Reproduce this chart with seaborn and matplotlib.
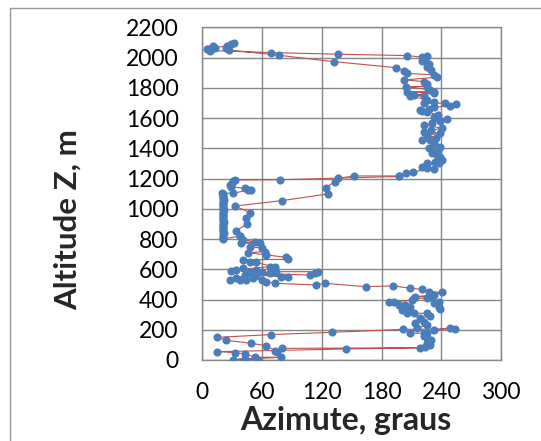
import matplotlib
matplotlib.use("Agg")
import matplotlib.pyplot as plt
import seaborn as sns
import pandas as pd
from matplotlib.lines import Line2D

# ---------------- data ----------------
# main trace: bottom section 0-510 m
az_bottom = [56, 43, 31, 79, 53, 43, 33, 15, 144, 219,
             80, 73, 75, 64, 49, 24, 15, 69, 130, 202,
             254, 249, 233, 226, 223, 226, 228, 229, 224, 226,
             230, 223, 209, 216, 226, 223, 214, 219, 229, 226,
             213, 206, 201, 209, 204, 198, 188, 193, 211, 213,
             226, 233, 238, 239, 238, 229, 214, 233, 241, 228,
             221, 209, 192, 164, 123]
alt_bottom = [0, 9, 2, 18, 18, 40, 49, 55, 73, 81,
              77, 62, 55, 94, 111, 130, 150, 168, 183, 203,
              205, 214, 197, 176, 160, 143, 121, 99, 88, 110,
              130, 176, 178, 210, 232, 254, 243, 276, 291, 309,
              309, 313, 331, 350, 362, 364, 386, 384, 397, 408,
              408, 379, 353, 335, 386, 419, 419, 430, 447, 452,
              467, 474, 490, 485, 507]

# left cluster 500-820 m
az_left = [114, 73, 64, 60, 51, 44, 38, 28, 34, 43,
           54, 79, 86, 49, 108, 113, 116, 74, 68, 60,
           54, 46, 41, 34, 29, 68, 73, 54, 48, 41,
           86, 84, 64, 46, 63, 60, 48, 58, 39, 53,
           41, 38]
alt_left = [496, 507, 518, 529, 540, 529, 529, 529, 540, 562,
            562, 551, 551, 573, 562, 578, 584, 584, 573, 584,
            595, 584, 606, 595, 591, 618, 614, 645, 651, 662,
            666, 679, 695, 710, 717, 739, 750, 772, 772, 783,
            794, 820]

# near-constant azimuth column 800-1100 m
az_column = [21, 21, 21, 21, 22, 21, 21, 21, 21, 21,
             21, 22, 21, 21, 21, 21, 21, 21, 21, 22,
             21, 21, 21, 21, 21, 21, 22, 21, 21, 21, 21]
alt_column = [800, 810, 820, 830, 840, 850, 860, 870, 880, 890,
              900, 910, 920, 930, 940, 950, 960, 970, 980, 990,
              1000, 1010, 1020, 1030, 1040, 1050, 1060, 1070, 1080, 1090, 1100]

# 1100-1215 m
az_upleft = [20, 31, 46, 49, 43, 29, 28, 30, 31, 33, 78, 198]
alt_upleft = [1104, 1102, 1124, 1124, 1135, 1146, 1160, 1172, 1182, 1190, 1192, 1214]

# right cluster 1230-1935 m
az_right = [205, 212, 226, 233, 221, 238, 226, 234, 241, 239,
            236, 231, 237, 228, 239, 233, 221, 229, 235, 226,
            239, 223, 230, 241, 223, 231, 239, 246, 233, 237,
            219, 226, 221, 228, 233, 249, 255, 244, 223, 233,
            226, 209, 223, 213, 233, 206, 233, 229, 205, 226,
            226, 223, 203, 236, 233, 206, 203, 195]
alt_right = [1235, 1241, 1268, 1261, 1278, 1301, 1301, 1312, 1325, 1345,
             1356, 1367, 1385, 1400, 1411, 1433, 1455, 1455, 1470, 1488,
             1499, 1510, 1520, 1532, 1554, 1568, 1583, 1592, 1609, 1620,
             1653, 1642, 1646, 1662, 1672, 1680, 1693, 1698, 1698, 1709,
             1720, 1745, 1746, 1753, 1764, 1775, 1775, 1786, 1808, 1808,
             1825, 1841, 1852, 1870, 1885, 1896, 1910, 1933]

# top section 1920-2100 m
az_top = [132, 77, 27, 24, 29, 32, 25, 13, 11, 6,
          5, 8, 69, 136, 206, 221, 226, 224, 221, 228, 226, 230]
alt_top = [1973, 2015, 2050, 2066, 2088, 2099, 2077, 2066, 2077, 2059,
           2055, 2046, 2033, 2022, 2013, 2002, 2008, 1984, 1975, 1955, 1940, 1920]

# second trace 820-1217 m
az_mid = [38, 34, 45, 44, 48, 33, 80, 126, 124, 133, 136, 152, 198]
alt_mid = [820, 855, 899, 937, 974, 1018, 1054, 1098, 1140, 1179, 1201, 1217, 1217]

x_ticks = [0, 60, 120, 180, 240, 300]
y_ticks = list(range(0, 2201, 200))
x_label = "Azimute, graus"
y_label = "Altitude Z, m"

# ---------------- build table ----------------
az_main = az_bottom + az_left + az_column + az_upleft + az_right + az_top
alt_main = alt_bottom + alt_left + alt_column + alt_upleft + alt_right + alt_top
df = pd.DataFrame({
    "azimute": az_main + az_mid,
    "altitude": alt_main + alt_mid,
    "trecho": ["a"] * len(az_main) + ["b"] * len(az_mid),
})

# ---------------- style ----------------
sns.set_style("white")
plt.rcParams["font.family"] = ["Lato", "DejaVu Sans"]

fig = plt.figure(figsize=(5.41, 4.41), dpi=100)
W, H = 541, 441
x0, x1, ytop, ybot = 202.3, 501.0, 27.3, 360.0
ax = fig.add_axes([x0 / W, (H - ybot) / H, (x1 - x0) / W, (ybot - ytop) / H])

grid_c = "#868686"
sns.lineplot(data=df, x="azimute", y="altitude", units="trecho", estimator=None,
             sort=False, color="#C0504D", linewidth=0.8, ax=ax, zorder=3, legend=False)
sns.scatterplot(data=df, x="azimute", y="altitude", color="#4A7EBB", s=34,
                linewidth=0, ax=ax, zorder=4, legend=False)

ax.set_xlim(0, 300)
ax.set_ylim(0, 2200)
ax.set_xticks(x_ticks)
ax.set_yticks(y_ticks)
ax.grid(True, color=grid_c, linewidth=1.0)
ax.set_axisbelow(True)
for sp in ax.spines.values():
    sp.set_color(grid_c)
    sp.set_linewidth(1.0)
ax.tick_params(axis="both", direction="out", length=5, width=1.0, color=grid_c,
               labelsize=16.5, labelcolor="black")
ax.tick_params(axis="x", pad=11)
ax.tick_params(axis="y", pad=12)

ax.set_xlabel(x_label, fontsize=23, fontweight="bold")
ax.set_ylabel(y_label, fontsize=22.5, fontweight="bold")
ax.xaxis.set_label_coords(0.482, -0.137)
ax.yaxis.set_label_coords(-0.405, 0.422)

# outer chart-area border (top and left edges visible)
fig.add_artist(Line2D([9.5 / W, 1.0], [1 - 7.5 / H, 1 - 7.5 / H], transform=fig.transFigure,
                      color="#9a9a9a", linewidth=1.0))
fig.add_artist(Line2D([9.5 / W, 9.5 / W], [0.0, 1 - 7.5 / H], transform=fig.transFigure,
                      color="#9a9a9a", linewidth=1.0))

fig.savefig("out.png", dpi=100)
